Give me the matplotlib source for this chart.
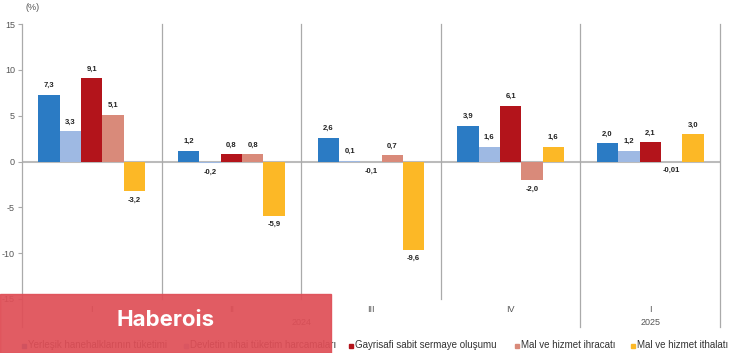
import matplotlib.pyplot as plt
from matplotlib.patches import Rectangle

plt.rcParams['font.family'] = ['Liberation Sans', 'DejaVu Sans']

# veriler
ceyrekler = ['I', 'II', 'III', 'IV', 'I']
yillar = ['2024', '2025']
seriler = ['Yerleşik hanehalklarının tüketimi',
           'Devletin nihai tüketim harcamaları',
           'Gayrisafi sabit sermaye oluşumu',
           'Mal ve hizmet ihracatı',
           'Mal ve hizmet ithalatı']
hanehalki = [7.3, 1.2, 2.6, 3.9, 2.0]
devlet = [3.3, -0.2, 0.1, 1.6, 1.2]
yatirim = [9.1, 0.8, -0.1, 6.1, 2.1]
ihracat = [5.1, 0.8, 0.7, -2.0, -0.01]
ithalat = [-3.2, -5.9, -9.6, 1.6, 3.0]
yticks = [15, 10, 5, 0, -5, -10, -15]

degerler = [hanehalki, devlet, yatirim, ihracat, ithalat]
renkler = ['#2B7BC4', '#9EB9E3', '#B3141B', '#D98A7A', '#FCB826']


def etiket(v):
    if abs(v) < 0.05:
        s = f"{v:.2f}"
    else:
        s = f"{v:.1f}"
    return s.replace('.', ',')


fig = plt.figure(figsize=(7.33, 3.53), dpi=100)
ax = fig.add_axes([22 / 733, 1 - 299 / 353, 698 / 733, 275 / 353])

genislik = 0.153
for i, vals in enumerate(degerler):
    xs = [k + (i - 2) * genislik for k in range(len(vals))]
    ax.bar(xs, vals, width=genislik, color=renkler[i], edgecolor='none', zorder=2)
    for x, v in zip(xs, vals):
        if v >= 0:
            ax.annotate(etiket(v), (x, v), xytext=(0, 4), textcoords='offset points',
                        ha='center', va='bottom', fontsize=5.5, fontweight='bold', color='#222222')
        else:
            ax.annotate(etiket(v), (x, v), xytext=(0, -4), textcoords='offset points',
                        ha='center', va='top', fontsize=5.5, fontweight='bold', color='#222222')

ax.set_xlim(-0.5, len(ceyrekler) - 0.5)
ax.set_ylim(-15, 15)
ax.axhline(0, color='#BBBBBB', lw=1.5, zorder=1)

# ceyrek ayiricilar
for x in [0.5, 1.5, 2.5]:
    ax.plot([x, x], [-15, 15], color='#AAAAAA', lw=0.9, clip_on=False)
# yil ayiricilar (asagi uzanir)
for x in [-0.5, 3.5, 4.5]:
    ax.plot([x, x], [-18, 15], color='#AAAAAA', lw=0.9, clip_on=False)

for spine in ax.spines.values():
    spine.set_visible(False)
ax.set_xticks([])
ax.set_yticks(yticks)
ax.set_yticklabels([str(t) for t in yticks], fontsize=6.5, color='#555555')
ax.tick_params(axis='y', length=3, color='#AAAAAA', pad=2)

for k, c in enumerate(ceyrekler):
    ax.text(k, -16.2, c, ha='center', va='center', fontsize=6.5, color='#555555')
ax.text(1.5, -17.6, yillar[0], ha='center', va='center', fontsize=6.5, color='#555555')
ax.text(4, -17.6, yillar[1], ha='center', va='center', fontsize=6.5, color='#555555')

fig.text(25 / 733, 1 - 7 / 353, '(%)', ha='left', va='center', fontsize=6.5, color='#555555')

# lejant
lej_x = [22, 184, 349, 515, 631]
for x, s, r in zip(lej_x, seriler, renkler):
    fig.patches.append(Rectangle((x / 733, 1 - 348 / 353), 4 / 733, 4 / 353,
                                 transform=fig.transFigure, color=r, figure=fig))
    fig.text((x + 6) / 733, 1 - 345.5 / 353, s, ha='left', va='center', fontsize=7, color='#333333')

# filigran
fig.patches.append(Rectangle((0, 0), 331 / 733, 59 / 353, transform=fig.transFigure,
                             color='#DF4F57', alpha=0.93, figure=fig, zorder=5))
fig.text(166 / 733, 1 - 320 / 353, 'Haberois', ha='center', va='center', fontsize=16,
         fontweight='bold', color='white', zorder=6, family=['Inter', 'DejaVu Sans'])

fig.savefig('out.png', dpi=100)
